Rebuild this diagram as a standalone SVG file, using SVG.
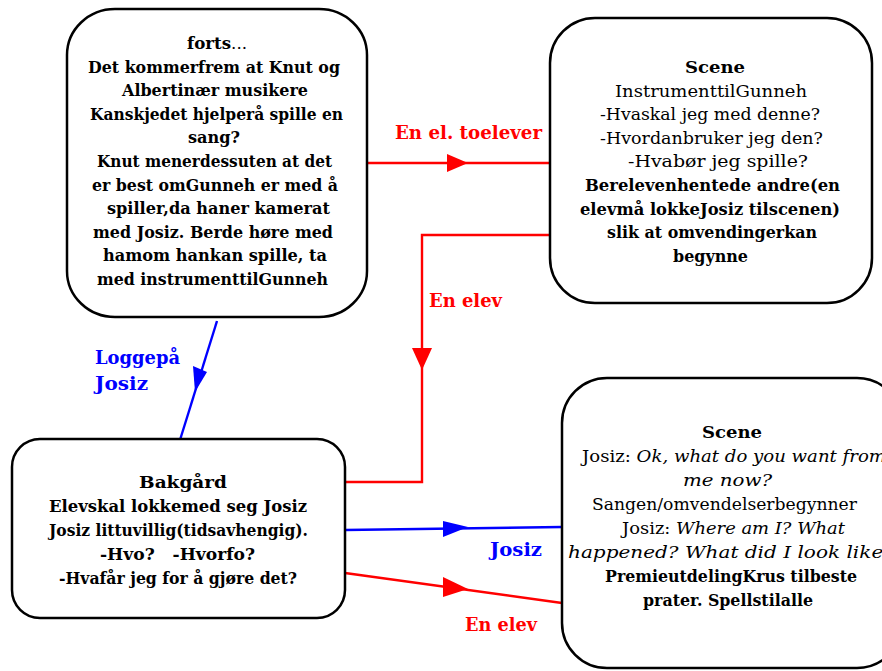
<svg xmlns="http://www.w3.org/2000/svg" width="882" height="671" viewBox="0 0 882 671">
<style>
.box{fill:#fff;stroke:#000;stroke-width:2.5}
.t{font-family:"DejaVu Serif","Liberation Serif",serif;font-size:17px;fill:#000}
.b{font-weight:bold}
.i{font-style:italic}
.lbl{font-family:"DejaVu Serif","Liberation Serif",serif;font-size:18px;font-weight:bold}
.red{stroke:#f00;stroke-width:2.4;fill:none}
.blue{stroke:#00f;stroke-width:2.4;fill:none}
.rf{fill:#f00}
.bf{fill:#00f}
</style>
<rect width="882" height="671" fill="#fff"/>
<g id="connectors">
<path class="red" d="M367,163 H550"/>
<polygon class="rf" points="447,154 468,163 447,172"/>
<path class="red" d="M550,235 H422 V482 H345"/>
<polygon class="rf" points="412,348 432,348 422,370"/>
<path class="blue" d="M217,321 L180,440"/>
<polygon class="bf" points="193,366 207,372 195,392"/>
<path class="blue" d="M345,530 L562,527"/>
<polygon class="bf" points="443,521 468,527 443,537"/>
<path class="red" d="M345,573 L562,603"/>
<polygon class="rf" points="443,577 468,589 443,597"/>
<text class="lbl" x="395" y="139" fill="#f00" textLength="147" lengthAdjust="spacingAndGlyphs">En el. toelever</text>
<text class="lbl" x="429" y="307" fill="#f00" textLength="73" lengthAdjust="spacingAndGlyphs">En elev</text>
<text class="lbl" x="95" y="364" fill="#00f" textLength="85" lengthAdjust="spacingAndGlyphs">Loggepå</text>
<text class="lbl" x="95" y="390" fill="#00f" textLength="53" lengthAdjust="spacingAndGlyphs">Josiz</text>
<text class="lbl" x="490" y="556" fill="#00f" textLength="52" lengthAdjust="spacingAndGlyphs">Josiz</text>
<text class="lbl" x="465" y="631" fill="#f00" textLength="72" lengthAdjust="spacingAndGlyphs">En elev</text>
</g>
<g id="node-forts">
<rect class="box" x="67" y="9" width="300" height="308" rx="48" ry="46"/>
<text class="t" x="187" y="49" textLength="60" lengthAdjust="spacingAndGlyphs"><tspan class="b">forts</tspan>...</text>
<text class="t b" x="88" y="72.6" textLength="252" lengthAdjust="spacingAndGlyphs">Det kommerfrem at Knut og</text>
<text class="t b" x="122" y="96.2" textLength="186" lengthAdjust="spacingAndGlyphs">Albertinær musikere</text>
<text class="t b" x="90" y="119.8" textLength="253" lengthAdjust="spacingAndGlyphs">Kanskjedet hjelperå spille en</text>
<text class="t b" x="188" y="143.4" textLength="52" lengthAdjust="spacingAndGlyphs">sang?</text>
<text class="t b" x="97" y="167" textLength="235" lengthAdjust="spacingAndGlyphs">Knut menerdessuten at det</text>
<text class="t b" x="92" y="190.6" textLength="246" lengthAdjust="spacingAndGlyphs">er best omGunneh er med å</text>
<text class="t b" x="107" y="214.2" textLength="223" lengthAdjust="spacingAndGlyphs">spiller,da haner kamerat</text>
<text class="t b" x="93" y="237.8" textLength="240" lengthAdjust="spacingAndGlyphs">med Josiz. Berde høre med</text>
<text class="t b" x="103" y="261.4" textLength="224" lengthAdjust="spacingAndGlyphs">hamom hankan spille, ta</text>
<text class="t b" x="97" y="285" textLength="231" lengthAdjust="spacingAndGlyphs">med instrumenttilGunneh</text>
</g>
<g id="node-scene1">
<rect class="box" x="550" y="18" width="322" height="285" rx="45" ry="45"/>
<text class="t b" x="685" y="73" textLength="60" lengthAdjust="spacingAndGlyphs">Scene</text>
<text class="t" x="615" y="96.6" textLength="192" lengthAdjust="spacingAndGlyphs">InstrumenttilGunneh</text>
<text class="t" x="600" y="120.2" textLength="220" lengthAdjust="spacingAndGlyphs">-Hvaskal jeg med denne?</text>
<text class="t" x="600" y="143.8" textLength="223" lengthAdjust="spacingAndGlyphs">-Hvordanbruker jeg den?</text>
<text class="t" x="628" y="167.4" textLength="180" lengthAdjust="spacingAndGlyphs">-Hvabør jeg spille?</text>
<text class="t b" x="585" y="191" textLength="255" lengthAdjust="spacingAndGlyphs">Berelevenhentede andre(en</text>
<text class="t b" x="580" y="214.6" textLength="260" lengthAdjust="spacingAndGlyphs">elevmå lokkeJosiz tilscenen)</text>
<text class="t b" x="607" y="238.2" textLength="210" lengthAdjust="spacingAndGlyphs">slik at omvendingerkan</text>
<text class="t b" x="673" y="261.8" textLength="75" lengthAdjust="spacingAndGlyphs">begynne</text>
</g>
<g id="node-bakgard">
<rect class="box" x="12" y="439" width="333" height="179" rx="28" ry="28"/>
<text class="t b" x="139" y="488" textLength="88" lengthAdjust="spacingAndGlyphs">Bakgård</text>
<text class="t b" x="49" y="512" textLength="258" lengthAdjust="spacingAndGlyphs">Elevskal lokkemed seg Josiz</text>
<text class="t b" x="49" y="536" textLength="259" lengthAdjust="spacingAndGlyphs">Josiz littuvillig(tidsavhengig).</text>
<text class="t b" x="100" y="560" textLength="155" lengthAdjust="spacingAndGlyphs" xml:space="preserve">-Hvo?   -Hvorfo?</text>
<text class="t b" x="59" y="584" textLength="238" lengthAdjust="spacingAndGlyphs">-Hvafår jeg for å gjøre det?</text>
</g>
<g id="node-scene2">
<rect class="box" x="562" y="378" width="340" height="290" rx="45" ry="45"/>
<text class="t b" x="702" y="438" textLength="60" lengthAdjust="spacingAndGlyphs">Scene</text>
<text class="t" x="582" y="462" textLength="304" lengthAdjust="spacingAndGlyphs">Josiz: <tspan class="i">Ok, what do you want from</tspan></text>
<text class="t i" x="683" y="486" textLength="89" lengthAdjust="spacingAndGlyphs">me now?</text>
<text class="t" x="592" y="510" textLength="265" lengthAdjust="spacingAndGlyphs">Sangen/omvendelserbegynner</text>
<text class="t" x="622" y="534" textLength="223" lengthAdjust="spacingAndGlyphs">Josiz: <tspan class="i">Where am I? What</tspan></text>
<text class="t i" x="568" y="558" textLength="326" lengthAdjust="spacingAndGlyphs">happened? What did I look like?</text>
<text class="t b" x="605" y="582" textLength="252" lengthAdjust="spacingAndGlyphs">PremieutdelingKrus tilbeste</text>
<text class="t b" x="643" y="606" textLength="170" lengthAdjust="spacingAndGlyphs">prater. Spellstilalle</text>
</g>
</svg>
